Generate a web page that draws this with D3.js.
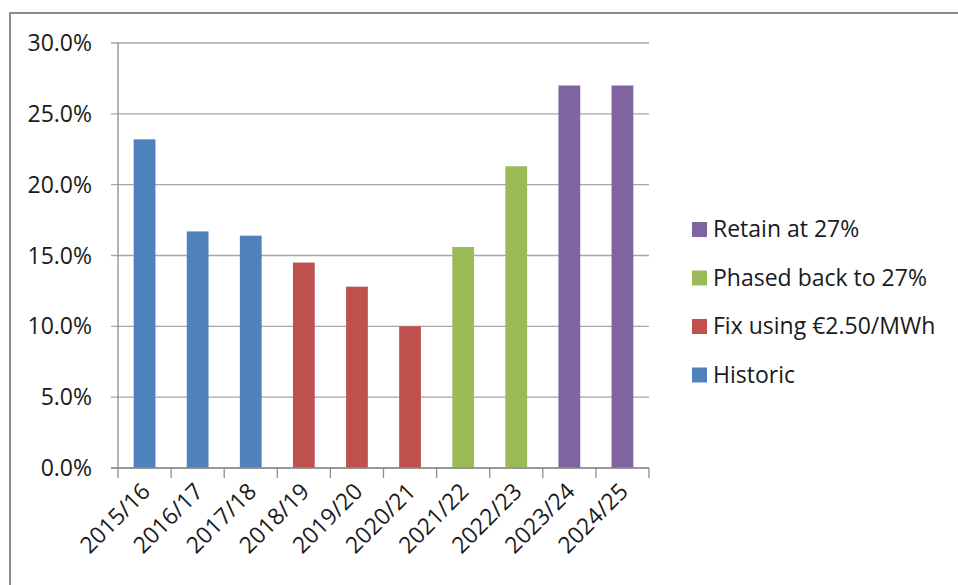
<!DOCTYPE html>
<html>
<head>
<meta charset="utf-8">
<script src="https://cdn.jsdelivr.net/npm/d3@7"></script>
<style>
  body { margin: 0; background: #fff; }
  text { font-family: "Open Sans", "Liberation Sans", sans-serif; fill: #1a1a1a; }
</style>
</head>
<body>
<svg id="chart" width="958" height="585"></svg>
<script>
const categories = ["2015/16", "2016/17", "2017/18", "2018/19", "2019/20",
  "2020/21", "2021/22", "2022/23", "2023/24", "2024/25"];
const values = [23.2, 16.7, 16.4, 14.5, 12.8, 10.0, 15.6, 21.3, 27.0, 27.0];
const seriesOf = ["Historic", "Historic", "Historic", "Fix using €2.50/MWh",
  "Fix using €2.50/MWh", "Fix using €2.50/MWh", "Phased back to 27%",
  "Phased back to 27%", "Retain at 27%", "Retain at 27%"];
const seriesNames = ["Retain at 27%", "Phased back to 27%", "Fix using €2.50/MWh", "Historic"];
const seriesColors = ["#8064A2", "#9BBB59", "#C0504D", "#4F81BD"];
const yTicks = [0, 5, 10, 15, 20, 25, 30];

const svg = d3.select("#chart");
const margin = { left: 118, right: 309, top: 43, bottom: 117 };
const width = 958 - margin.left - margin.right;
const height = 585 - margin.top - margin.bottom;

const color = d3.scaleOrdinal().domain(seriesNames).range(seriesColors);

// outer chart frame
svg.append("path")
  .attr("d", "M10,585 L10,13 L958,13")
  .attr("fill", "none")
  .attr("stroke", "#8c8c8c")
  .attr("stroke-width", 2);

const g = svg.append("g").attr("transform", `translate(${margin.left},${margin.top})`);

const x = d3.scaleBand().domain(categories).range([0, width]).paddingInner(0.59).paddingOuter(0.295);
const xEdges = d3.scaleLinear().domain([0, categories.length]).range([0, width]);
const y = d3.scaleLinear().domain([0, 30]).range([height, 0]);

// gridlines
g.append("g")
  .selectAll("line")
  .data(yTicks)
  .join("line")
  .attr("x1", -7)
  .attr("x2", width)
  .attr("y1", d => y(d))
  .attr("y2", d => y(d))
  .attr("stroke", "#a6a6a6")
  .attr("stroke-width", 1.3);

// y labels
g.append("g")
  .selectAll("text")
  .data(yTicks)
  .join("text")
  .attr("x", -26)
  .attr("y", d => y(d))
  .attr("dy", "0.35em")
  .attr("text-anchor", "end")
  .attr("font-size", "23px")
  .text(d => d.toFixed(1) + "%");

// bars
g.append("g")
  .selectAll("rect")
  .data(values)
  .join("rect")
  .attr("x", (d, i) => x(categories[i]))
  .attr("width", x.bandwidth())
  .attr("y", d => y(d))
  .attr("height", d => height - y(d))
  .attr("fill", (d, i) => color(seriesOf[i]));

// axes lines
g.append("line")
  .attr("x1", 0).attr("x2", 0).attr("y1", 0).attr("y2", height)
  .attr("stroke", "#8c8c8c").attr("stroke-width", 1.3);
g.append("line")
  .attr("x1", -7).attr("x2", width).attr("y1", height).attr("y2", height)
  .attr("stroke", "#8c8c8c").attr("stroke-width", 1.3);

// x tick marks at category edges
g.append("g")
  .selectAll("line")
  .data(d3.range(categories.length + 1))
  .join("line")
  .attr("x1", d => xEdges(d))
  .attr("x2", d => xEdges(d))
  .attr("y1", height)
  .attr("y2", height + 10)
  .attr("stroke", "#8c8c8c")
  .attr("stroke-width", 1.3);

// x labels, rotated
g.append("g")
  .selectAll("text")
  .data(categories)
  .join("text")
  .attr("text-anchor", "end")
  .attr("font-size", "23px")
  .attr("transform", d => `translate(${x(d) + x.bandwidth() / 2 + 7},${height + 25}) rotate(-45)`)
  .text(d => d);

// legend
const legend = svg.append("g").attr("transform", "translate(692,229)");
const item = legend.selectAll("g")
  .data(seriesNames)
  .join("g")
  .attr("transform", (d, i) => `translate(0,${i * 48.5})`);
item.append("rect")
  .attr("x", 0).attr("y", -7)
  .attr("width", 15).attr("height", 15)
  .attr("fill", d => color(d));
item.append("text")
  .attr("x", 21)
  .attr("dy", "0.35em")
  .attr("font-size", "23px")
  .text(d => d);
</script>
</body>
</html>
